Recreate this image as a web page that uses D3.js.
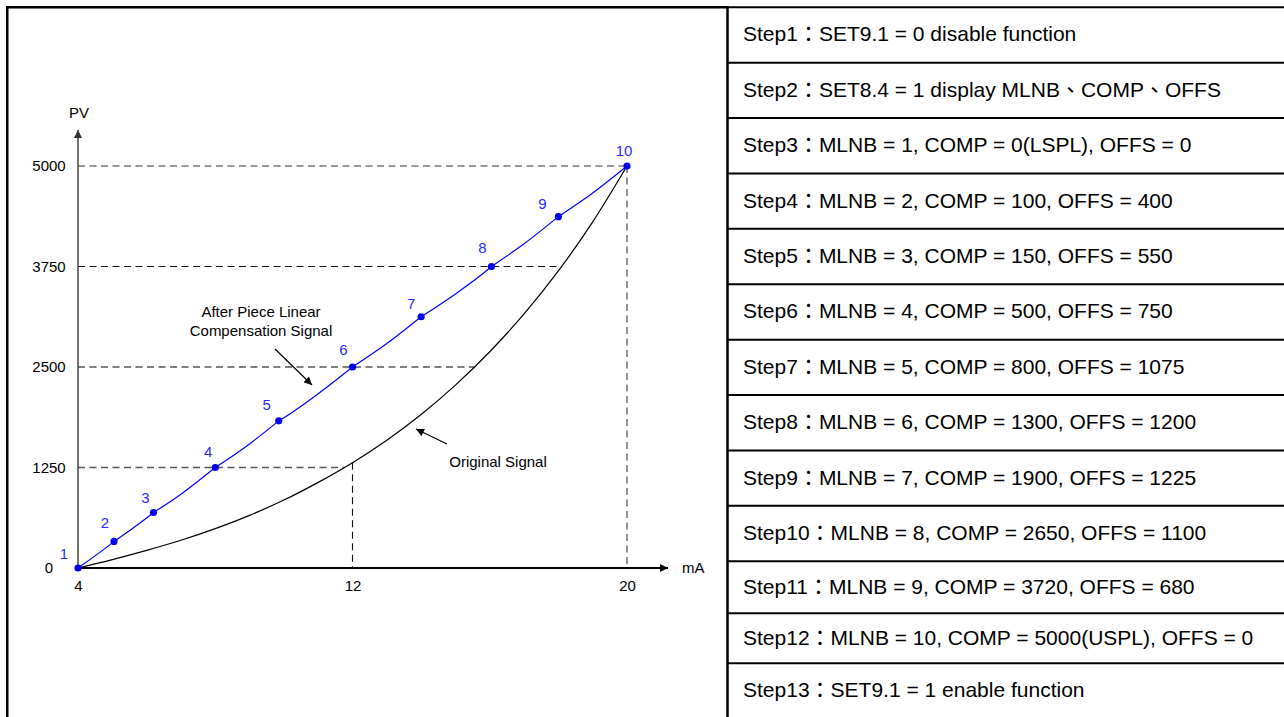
<!DOCTYPE html>
<html lang="en">
<head>
<meta charset="utf-8">
<title>Piece Linear Compensation</title>
<script src="https://cdn.jsdelivr.net/npm/d3@7"></script>
<style>
  body { margin: 0; background: #fff; }
  svg { display: block; font-family: Arial, "Liberation Sans", "Noto Sans CJK TC", sans-serif; }
</style>
</head>
<body>
<script>
// original (uncompensated) signal
const mA = [4, 5, 6, 7, 8, 9, 10, 11, 12, 13, 14, 15, 16, 17, 18, 19, 20];
const originalPV = [0, 105, 220, 345, 490, 655, 845, 1065, 1310, 1590, 1910, 2275, 2690, 3160, 3695, 4305, 5000];

// compensated points 1..10
const pointMA = [4, 5.05, 6.2, 8, 9.85, 12, 14, 16.05, 18, 20];
const pointPV = [0, 330, 690, 1250, 1830, 2500, 3125, 3750, 4370, 5000];
const pointNames = ["1", "2", "3", "4", "5", "6", "7", "8", "9", "10"];

const xTicks = [4, 12, 20];
const yTicks = [0, 1250, 2500, 3750, 5000];
const guidePV = [1250, 2500, 3750];   // dashed lines that stop at the original curve
const guideMA = [12];                 // dashed vertical up to the original curve

const steps = [
  "Step1：SET9.1 = 0 disable function",
  "Step2：SET8.4 = 1 display MLNB、COMP、OFFS",
  "Step3：MLNB = 1, COMP = 0(LSPL), OFFS = 0",
  "Step4：MLNB = 2, COMP = 100, OFFS = 400",
  "Step5：MLNB = 3, COMP = 150, OFFS = 550",
  "Step6：MLNB = 4, COMP = 500, OFFS = 750",
  "Step7：MLNB = 5, COMP = 800, OFFS = 1075",
  "Step8：MLNB = 6, COMP = 1300, OFFS = 1200",
  "Step9：MLNB = 7, COMP = 1900, OFFS = 1225",
  "Step10：MLNB = 8, COMP = 2650, OFFS = 1100",
  "Step11：MLNB = 9, COMP = 3720, OFFS = 680",
  "Step12：MLNB = 10, COMP = 5000(USPL), OFFS = 0",
  "Step13：SET9.1 = 1 enable function"
];

const W = 1284, H = 717;
const svg = d3.select("body").append("svg").attr("width", W).attr("height", H);

// arrow heads
const defs = svg.append("defs");
function marker(id, color) {
  defs.append("marker")
    .attr("id", id)
    .attr("viewBox", "0 0 10 10")
    .attr("refX", 10).attr("refY", 5)
    .attr("markerWidth", 9).attr("markerHeight", 8)
    .attr("markerUnits", "userSpaceOnUse")
    .attr("orient", "auto")
    .append("path").attr("d", "M0,0 L10,5 L0,10 Z").attr("fill", color);
}
marker("arrowBlack", "#000");
marker("arrowGray", "#333");

// frame round the chart
svg.append("rect")
  .attr("x", 7.25).attr("y", 7.25).attr("width", 720.25).attr("height", 800)
  .attr("fill", "none").attr("stroke", "#000").attr("stroke-width", 2.5);

// ---- table ----
const rowH = [55.4, 55.4, 55.4, 55.4, 55.4, 55.4, 55.4, 55.4, 55.4, 55.4, 52, 50, 55];
let tops = [7.25];
rowH.forEach(h => tops.push(tops[tops.length - 1] + h));

const table = svg.append("g");
table.selectAll("line.row")
  .data(tops)
  .enter().append("line")
  .attr("class", "row")
  .attr("x1", 727.5).attr("x2", 1290)
  .attr("y1", d => d).attr("y2", d => d)
  .attr("stroke", "#000").attr("stroke-width", 2);

table.selectAll("text")
  .data(steps)
  .enter().append("text")
  .attr("x", 743)
  .attr("y", (d, i) => tops[i] + rowH[i] / 2 + 6.5)
  .attr("font-size", "21px")
  .attr("fill", "#000")
  .text(d => d);

// ---- chart ----
const x = d3.scaleLinear().domain([4, 20]).range([78, 627]);
const y = d3.scaleLinear().domain([0, 5000]).range([568, 166]);
const origAt = d3.scaleLinear().domain(mA).range(originalPV);
const maAt = d3.scaleLinear().domain(originalPV).range(mA);

const g = svg.append("g");

// dashed guides
const dash = "7,4.5";
g.append("line")
  .attr("x1", x(4)).attr("x2", x(20)).attr("y1", y(5000)).attr("y2", y(5000))
  .attr("stroke", "#777").attr("stroke-width", 1.6).attr("stroke-dasharray", dash);
g.append("line")
  .attr("x1", x(20)).attr("x2", x(20)).attr("y1", y(5000)).attr("y2", y(0))
  .attr("stroke", "#777").attr("stroke-width", 1.6).attr("stroke-dasharray", dash);
g.selectAll("line.hguide")
  .data(guidePV)
  .enter().append("line")
  .attr("class", "hguide")
  .attr("x1", x(4)).attr("x2", d => x(maAt(d)))
  .attr("y1", d => y(d)).attr("y2", d => y(d))
  .attr("stroke", d => d === 3750 ? "#111" : "#555")
  .attr("stroke-width", d => d === 3750 ? 1.1 : 1.4)
  .attr("stroke-dasharray", dash);
g.selectAll("line.vguide")
  .data(guideMA)
  .enter().append("line")
  .attr("class", "vguide")
  .attr("x1", d => x(d)).attr("x2", d => x(d))
  .attr("y1", d => y(origAt(d))).attr("y2", y(0))
  .attr("stroke", "#111").attr("stroke-width", 1.1).attr("stroke-dasharray", dash);

// axes
const yAxis = g.append("g").attr("transform", `translate(${x(4)},0)`)
  .call(d3.axisLeft(y).tickValues(yTicks).tickSize(0).tickFormat(d3.format("d")))
  .attr("font-family", null).attr("font-size", "15px");
yAxis.select(".domain").remove();
yAxis.selectAll("text").attr("x", -29).attr("text-anchor", "middle").attr("fill", "#000");

const xAxis = g.append("g").attr("transform", `translate(0,${y(0)})`)
  .call(d3.axisBottom(x).tickValues(xTicks).tickSize(0).tickPadding(12.5).tickFormat(d3.format("d")))
  .attr("font-family", null).attr("font-size", "15px");
xAxis.select(".domain").remove();
xAxis.selectAll("text").attr("fill", "#000");

g.append("line")
  .attr("x1", x(4)).attr("x2", x(4)).attr("y1", y(0)).attr("y2", 130)
  .attr("stroke", "#444").attr("stroke-width", 1.5)
  .attr("marker-end", "url(#arrowGray)");
g.append("line")
  .attr("x1", x(4)).attr("x2", 668).attr("y1", y(0)).attr("y2", y(0))
  .attr("stroke", "#000").attr("stroke-width", 2)
  .attr("marker-end", "url(#arrowBlack)");

g.append("text").attr("x", 79).attr("y", 118).attr("text-anchor", "middle")
  .attr("font-size", "15px").text("PV");
g.append("text").attr("x", 682).attr("y", 573)
  .attr("font-size", "15px").text("mA");

// original signal
const orig = mA.map((m, i) => [m, originalPV[i]]);
const curve = d3.line().x(d => x(d[0])).y(d => y(d[1])).curve(d3.curveMonotoneX);
g.append("path")
  .datum(orig)
  .attr("fill", "none").attr("stroke", "#000").attr("stroke-width", 1.2)
  .attr("d", curve);

// compensated signal: each piece is the original curve mapped linearly
// between two neighbouring points
const pts = pointMA.map((m, i) => ({ m: m, v: pointPV[i], name: pointNames[i] }));
const pieces = d3.pairs(pts).map(([a, b]) => {
  const map = d3.scaleLinear().domain([origAt(a.m), origAt(b.m)]).range([a.v, b.v]);
  const inner = mA.filter(m => m > a.m && m < b.m);
  return [[a.m, a.v]].concat(inner.map(m => [m, map(origAt(m))]), [[b.m, b.v]]);
});
g.selectAll("path.piece")
  .data(pieces)
  .enter().append("path")
  .attr("class", "piece")
  .attr("fill", "none").attr("stroke", "#0000ff").attr("stroke-width", 1.2)
  .attr("d", curve);

g.selectAll("circle.pt")
  .data(pts)
  .enter().append("circle")
  .attr("class", "pt")
  .attr("cx", d => x(d.m)).attr("cy", d => y(d.v)).attr("r", 3.6)
  .attr("fill", "#0000ee");

const nudge = [[-14, -9], [-9, -13], [-8, -10], [-7, -11], [-12, -11], [-9, -12], [-10, -8], [-9, -14], [-16, -8], [-3, -10]];
g.selectAll("text.pt")
  .data(pts)
  .enter().append("text")
  .attr("class", "pt")
  .attr("x", (d, i) => x(d.m) + nudge[i][0])
  .attr("y", (d, i) => y(d.v) + nudge[i][1])
  .attr("text-anchor", "middle")
  .attr("font-size", "15px").attr("fill", "#2a2aff")
  .text(d => d.name);

// annotations
const ann = g.append("g").attr("font-size", "15px").attr("fill", "#000").attr("text-anchor", "middle");
ann.append("text").attr("x", 261).attr("y", 317).text("After Piece Linear");
ann.append("text").attr("x", 261).attr("y", 336).text("Compensation Signal");
ann.append("text").attr("x", 498).attr("y", 467).text("Original Signal");
g.append("line")
  .attr("x1", 275).attr("y1", 349).attr("x2", 312).attr("y2", 385)
  .attr("stroke", "#000").attr("stroke-width", 1.2).attr("marker-end", "url(#arrowBlack)");
g.append("line")
  .attr("x1", 447).attr("y1", 444).attr("x2", 416).attr("y2", 429)
  .attr("stroke", "#000").attr("stroke-width", 1.2).attr("marker-end", "url(#arrowBlack)");
</script>
</body>
</html>
